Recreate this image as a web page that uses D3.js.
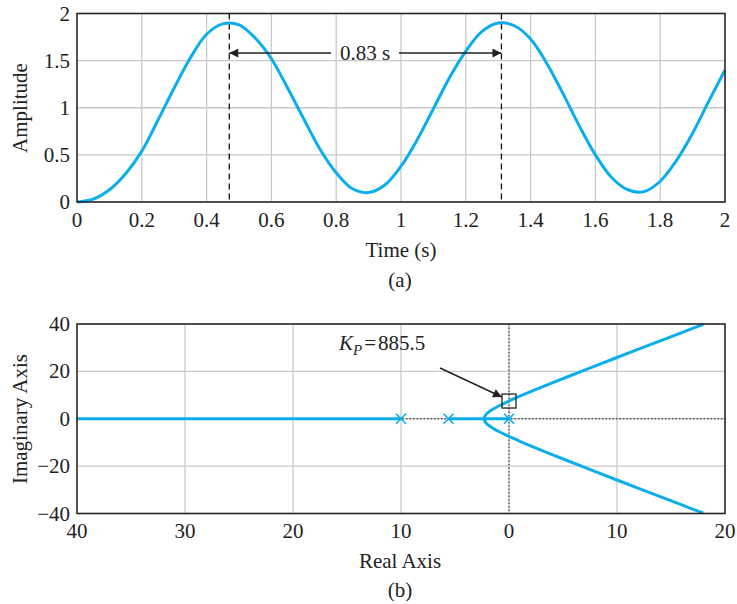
<!DOCTYPE html>
<html><head><meta charset="utf-8">
<script src="https://cdn.jsdelivr.net/npm/d3@7"></script>
<style>
html,body{margin:0;padding:0;background:#fff;}
svg text{font-family:"Liberation Serif","Times New Roman",serif;fill:#222;}
</style></head>
<body><svg id="c" width="737" height="604"></svg>
<script>
// ---------- data: (a) step response ----------
const timeValues = [0,0.05,0.1,0.15,0.2,0.25,0.3,0.35,0.4,0.45,0.5,0.55,0.6,0.65,0.7,0.75,0.8,0.85,0.9,0.95,1.0,1.05,1.1,1.15,1.2,1.25,1.3,1.35,1.4,1.45,1.5,1.55,1.6,1.65,1.7,1.75,1.8,1.85,1.9,1.95,2.0];
const amplitudeValues = [0,0.03,0.13,0.3,0.54,0.87,1.21,1.53,1.78,1.89,1.88,1.74,1.52,1.21,0.88,0.56,0.31,0.14,0.1,0.18,0.38,0.66,0.99,1.32,1.6,1.81,1.9,1.87,1.73,1.47,1.15,0.81,0.5,0.26,0.13,0.11,0.22,0.44,0.73,1.07,1.4];
const timeTicks = [0,0.2,0.4,0.6,0.8,1,1.2,1.4,1.6,1.8,2];
const timeTickLabels = ["0","0.2","0.4","0.6","0.8","1","1.2","1.4","1.6","1.8","2"];
const ampTicks = [0,0.5,1,1.5,2];
const ampTickLabels = ["0","0.5","1","1.5","2"];
const peakTimes = [0.47,1.31];
const periodArrowLevel = 1.58;
const periodLabel = "0.83 s";

// ---------- data: (b) root locus ----------
const realAxisLeft = [[-40,0],[-10,0]];
const realAxisMid = [[-5.6,0],[-2.3,0],[0,0]];
const branchSigma = [-2.3,-2.2,-2,-1.5,-1,0,1,2,4,6,8,10,12,14,16,18];
const branchOmega = [0.33,1.37,2.37,3.99,5.27,7.48,9.5,11.42,15.13,18.74,22.31,25.85,29.37,32.88,36.38,39.87];
const poles = [0,-5.6,-10];
const gainPoint = [0,7.48];
const gainLabelValue = "885.5";
const reTicks = [-40,-30,-20,-10,0,10,20];
const reTickLabels = ["40","30","20","10","0","10","20"];
const imTicks = [-40,-20,0,20,40];
const imTickLabels = ["\u221240","\u221220","0","20","40"];

const svg = d3.select("#c");
const blue = "#0aaeea";
const gridC = "#c9c9c9";
const FS = 21;

// ===== (a) =====
const L = 77, R = 725;
const xa = d3.scaleLinear().domain([0,2]).range([L,R]);
const ya = d3.scaleLinear().domain([0,2]).range([202,13.5]);
const ga = svg.append("g");
ga.selectAll(".gx").data(timeTicks).enter().append("line")
  .attr("x1",d=>xa(d)).attr("x2",d=>xa(d)).attr("y1",ya(0)).attr("y2",ya(2))
  .attr("stroke",gridC).attr("stroke-width",1.3);
ga.selectAll(".gy").data(ampTicks).enter().append("line")
  .attr("x1",L).attr("x2",R).attr("y1",d=>ya(d)).attr("y2",d=>ya(d))
  .attr("stroke",gridC).attr("stroke-width",1.3);
// dashed peak markers
ga.selectAll(".pk").data(peakTimes).enter().append("line")
  .attr("x1",d=>xa(d)).attr("x2",d=>xa(d)).attr("y1",ya(2)).attr("y2",ya(0))
  .attr("stroke","#111").attr("stroke-width",1.3).attr("stroke-dasharray","6,4");
// curve
ga.append("path").datum(timeValues.map((t,i)=>[t,amplitudeValues[i]]))
  .attr("d",d3.line().x(d=>xa(d[0])).y(d=>ya(d[1])).curve(d3.curveCatmullRom.alpha(0.5)))
  .attr("fill","none").attr("stroke",blue).attr("stroke-width",3);
// period arrow
const defs = svg.append("defs");
defs.append("marker").attr("id","ah").attr("viewBox","0 0 10 10").attr("refX",10).attr("refY",5)
  .attr("markerWidth",12).attr("markerHeight",9).attr("markerUnits","userSpaceOnUse").attr("orient","auto")
  .append("path").attr("d","M0,0 L10,5 L0,10 z").attr("fill","#222");
const ay = ya(periodArrowLevel);
const tx = 365;
ga.append("line").attr("x1",tx-34).attr("x2",xa(peakTimes[0])).attr("y1",ay).attr("y2",ay)
  .attr("stroke","#222").attr("stroke-width",1.5).attr("marker-end","url(#ah)");
ga.append("line").attr("x1",tx+34).attr("x2",xa(peakTimes[1])).attr("y1",ay).attr("y2",ay)
  .attr("stroke","#222").attr("stroke-width",1.5).attr("marker-end","url(#ah)");
ga.append("text").attr("x",tx).attr("y",ay+6.5).attr("text-anchor","middle").attr("font-size",FS).text(periodLabel);
// frame
ga.append("rect").attr("x",L).attr("y",ya(2)).attr("width",R-L).attr("height",ya(0)-ya(2))
  .attr("fill","none").attr("stroke","#222").attr("stroke-width",1.5);
// ticks labels
ga.selectAll(".tx").data(timeTicks).enter().append("text")
  .attr("x",d=>xa(d)).attr("y",226.5).attr("text-anchor","middle").attr("font-size",FS)
  .text((d,i)=>timeTickLabels[i]);
ga.selectAll(".ty").data(ampTicks).enter().append("text")
  .attr("x",70).attr("y",d=>ya(d)+7).attr("text-anchor","end").attr("font-size",FS)
  .text((d,i)=>ampTickLabels[i]);
ga.append("text").attr("x",401).attr("y",256.5).attr("text-anchor","middle").attr("font-size",FS).text("Time (s)");
ga.append("text").attr("transform","translate(27,108) rotate(-90)").attr("text-anchor","middle").attr("font-size",FS).text("Amplitude");
ga.append("text").attr("x",400).attr("y",287).attr("text-anchor","middle").attr("font-size",FS).text("(a)");

// ===== (b) =====
const xb = d3.scaleLinear().domain([-40,20]).range([L,R]);
const yb = d3.scaleLinear().domain([-40,40]).range([513.5,324]);
const gb = svg.append("g");
gb.selectAll(".gx").data(reTicks).enter().append("line")
  .attr("x1",d=>xb(d)).attr("x2",d=>xb(d)).attr("y1",yb(-40)).attr("y2",yb(40))
  .attr("stroke",gridC).attr("stroke-width",1.3);
gb.selectAll(".gy").data(imTicks).enter().append("line")
  .attr("x1",L).attr("x2",R).attr("y1",d=>yb(d)).attr("y2",d=>yb(d))
  .attr("stroke",gridC).attr("stroke-width",1.3);
// dotted axes
gb.append("line").attr("x1",xb(0)).attr("x2",xb(0)).attr("y1",yb(40)).attr("y2",yb(-40))
  .attr("stroke","#222").attr("stroke-width",1).attr("stroke-dasharray","1.5,2");
gb.append("line").attr("x1",L).attr("x2",R).attr("y1",yb(0)).attr("y2",yb(0))
  .attr("stroke","#222").attr("stroke-width",1).attr("stroke-dasharray","1.5,2");
// locus
const lineB = d3.line().x(d=>xb(d[0])).y(d=>yb(d[1]));
const lineC = d3.line().x(d=>xb(d[0])).y(d=>yb(d[1])).curve(d3.curveCatmullRom);
gb.append("path").datum(realAxisLeft).attr("d",lineB).attr("fill","none").attr("stroke",blue).attr("stroke-width",3);
gb.append("path").datum(realAxisMid).attr("d",lineB).attr("fill","none").attr("stroke",blue).attr("stroke-width",3);
const upper = [[-2.3,0]].concat(branchSigma.map((s,i)=>[s,branchOmega[i]]));
const lower = [[-2.3,0]].concat(branchSigma.map((s,i)=>[s,-branchOmega[i]]));
gb.append("path").datum(upper).attr("d",lineC).attr("fill","none").attr("stroke",blue).attr("stroke-width",3);
gb.append("path").datum(lower).attr("d",lineC).attr("fill","none").attr("stroke",blue).attr("stroke-width",3);
// poles
poles.forEach(p=>{
  const cx = xb(p), cy = yb(0), h = 5;
  gb.append("path").attr("d",`M${cx-h},${cy-h}L${cx+h},${cy+h}M${cx-h},${cy+h}L${cx+h},${cy-h}`)
    .attr("stroke",blue).attr("stroke-width",1.6).attr("fill","none");
});
// gain box
gb.append("rect").attr("x",xb(gainPoint[0])-7).attr("y",yb(gainPoint[1])-7).attr("width",14).attr("height",14)
  .attr("fill","none").attr("stroke","#222").attr("stroke-width",1.3);
// frame
gb.append("rect").attr("x",L).attr("y",yb(40)).attr("width",R-L).attr("height",yb(-40)-yb(40))
  .attr("fill","none").attr("stroke","#222").attr("stroke-width",1.5);
// annotation
gb.append("line").attr("x1",440).attr("y1",368).attr("x2",xb(gainPoint[0])-7).attr("y2",yb(gainPoint[1])-4)
  .attr("stroke","#222").attr("stroke-width",1.5).attr("marker-end","url(#ah)");
const kt = gb.append("text").attr("x",339).attr("y",350).attr("font-size",FS);
kt.append("tspan").attr("font-style","italic").text("K");
kt.append("tspan").attr("font-style","italic").attr("font-size",15).attr("dy",5).text("P");
kt.append("tspan").attr("dy",-5).attr("dx",2).text("=");
kt.append("tspan").attr("dx",2).text(gainLabelValue);
// tick labels
gb.selectAll(".tx").data(reTicks).enter().append("text")
  .attr("x",d=>xb(d)).attr("y",537.5).attr("text-anchor","middle").attr("font-size",FS)
  .text((d,i)=>reTickLabels[i]);
gb.selectAll(".ty").data(imTicks).enter().append("text")
  .attr("x",70).attr("y",d=>yb(d)+7).attr("text-anchor","end").attr("font-size",FS)
  .text((d,i)=>imTickLabels[i]);
gb.append("text").attr("x",400).attr("y",567.5).attr("text-anchor","middle").attr("font-size",FS).text("Real Axis");
gb.append("text").attr("transform","translate(27,419) rotate(-90)").attr("text-anchor","middle").attr("font-size",FS).text("Imaginary Axis");
gb.append("text").attr("x",400).attr("y",597).attr("text-anchor","middle").attr("font-size",FS).text("(b)");
</script></body></html>
